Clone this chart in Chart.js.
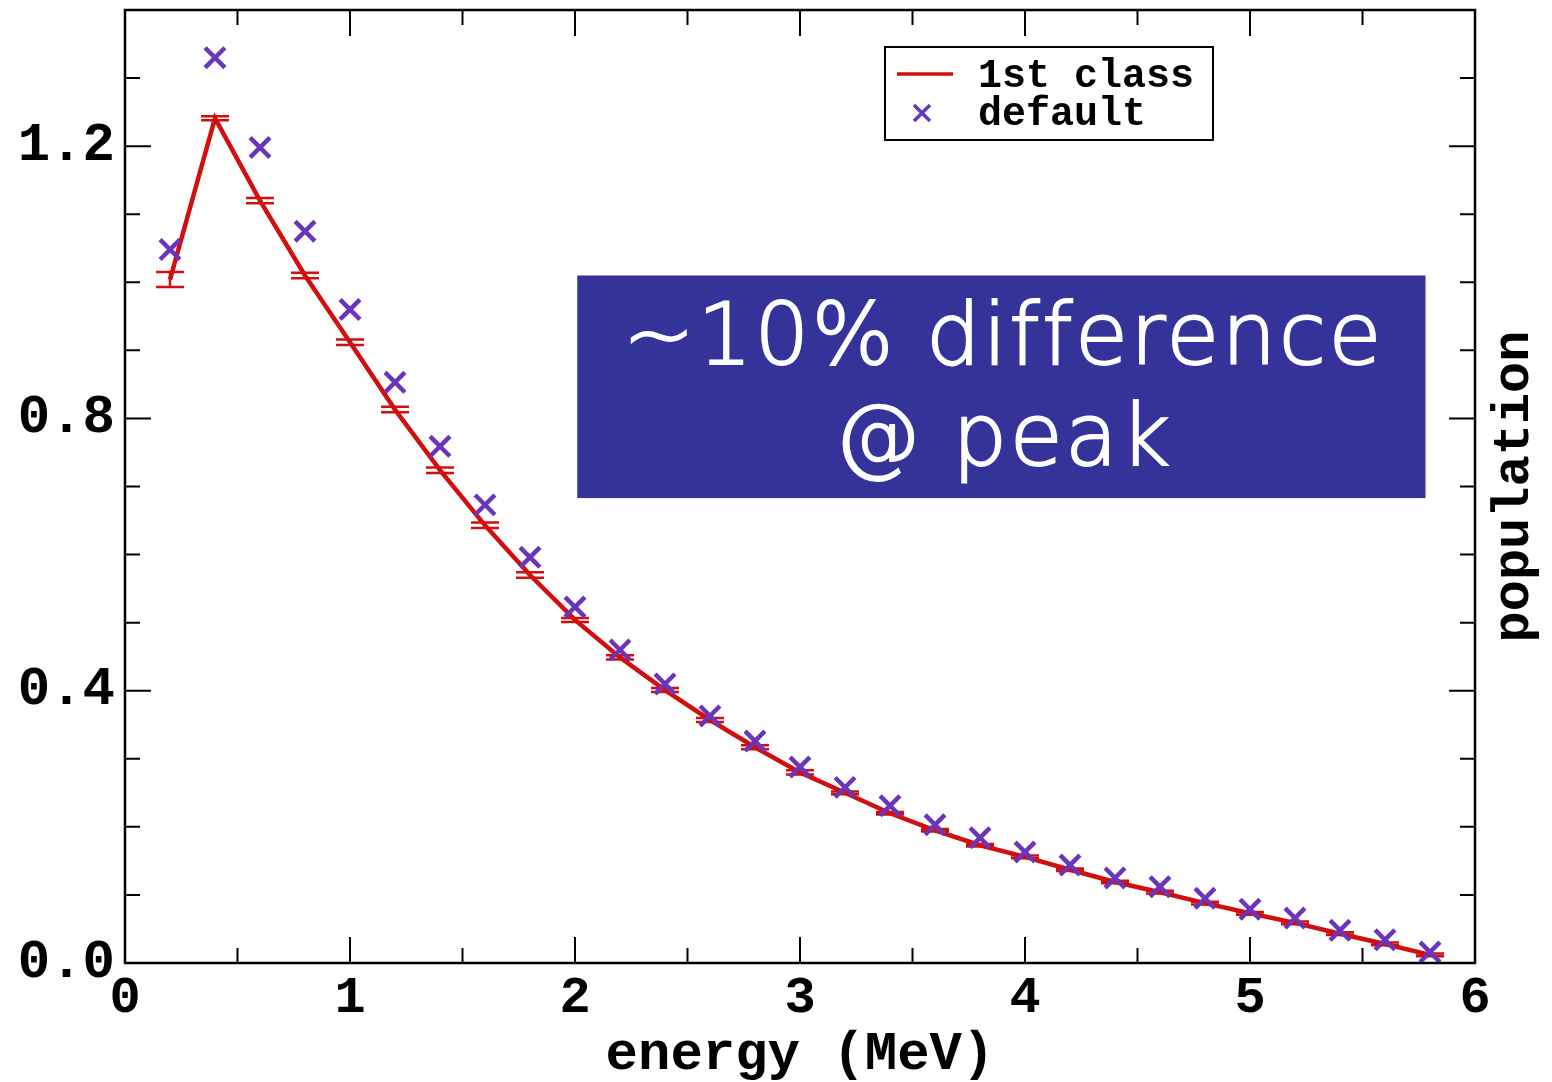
<!DOCTYPE html>
<html>
<head>
<meta charset="utf-8">
<script src="https://cdn.jsdelivr.net/npm/chart.js@4.4.0/dist/chart.umd.min.js"></script>
<style>
html, body { margin: 0; padding: 0; background: #fff; }
#wrap { width: 1552px; height: 1082px; }
</style>
</head>
<body>
<div id="wrap"><canvas id="spectrumChart"></canvas></div>
<script>
// energy bins (MeV)
const energy = [0.2, 0.4, 0.6, 0.8, 1.0, 1.2, 1.4, 1.6, 1.8, 2.0, 2.2, 2.4, 2.6, 2.8, 3.0,
                3.2, 3.4, 3.6, 3.8, 4.0, 4.2, 4.4, 4.6, 4.8, 5.0, 5.2, 5.4, 5.6, 5.8];
// 1st class run (line + error bars)
const firstClass = [1.004, 1.241, 1.120, 1.010, 0.912, 0.813, 0.724, 0.643, 0.570, 0.504,
                    0.449, 0.401, 0.357, 0.317, 0.280, 0.250, 0.220, 0.195, 0.173, 0.156,
                    0.137, 0.119, 0.104, 0.088, 0.073, 0.059, 0.043, 0.028, 0.012];
const firstClassErr = [0.011, 0.003, 0.004, 0.004, 0.004, 0.004, 0.004, 0.004, 0.004, 0.003,
                       0.003, 0.003, 0.003, 0.003, 0.003, 0.002, 0.002, 0.002, 0.002, 0.002,
                       0.002, 0.002, 0.002, 0.002, 0.002, 0.002, 0.002, 0.002, 0.002];
// default run (x markers)
const defaultRun = [1.048, 1.330, 1.198, 1.075, 0.960, 0.853, 0.759, 0.673, 0.596, 0.523,
                    0.460, 0.410, 0.363, 0.326, 0.288, 0.258, 0.231, 0.203, 0.184, 0.163,
                    0.144, 0.125, 0.112, 0.095, 0.079, 0.066, 0.048, 0.034, 0.016];
const seriesNames = ['1st class', 'default'];
const noteLines = ['~10% difference', '@ peak'];

const RED = '#d20e0e';
const PURPLE = '#6a35b8';
const MONO = "'Liberation Mono', 'Courier New', monospace";

const toPoints = ys => energy.map((e, i) => ({ x: e, y: ys[i] }));

// drop the label overhang padding so the plot box sits where we want it
const noPad = s => { s.paddingTop = 0; s.paddingBottom = 0; s.paddingLeft = 0; s.paddingRight = 0; };

// error bars under the line
const errorBars = {
    id: 'errorBars',
    beforeDatasetsDraw(chart) {
        const { ctx, scales: { x, y } } = chart;
        ctx.save();
        ctx.strokeStyle = RED;
        ctx.lineWidth = 2.5;
        energy.forEach((e, i) => {
            const px = x.getPixelForValue(e);
            const top = y.getPixelForValue(firstClass[i] + firstClassErr[i]);
            const bot = y.getPixelForValue(firstClass[i] - firstClassErr[i]);
            ctx.beginPath();
            ctx.moveTo(px, top); ctx.lineTo(px, bot);
            ctx.moveTo(px - 14, top); ctx.lineTo(px + 14, top);
            ctx.moveTo(px - 14, bot); ctx.lineTo(px + 14, bot);
            ctx.stroke();
        });
        ctx.restore();
    }
};

// frame, inward ticks, legend, right title, note box
const decorations = {
    id: 'decorations',
    afterDraw(chart) {
        const { ctx, chartArea: a, scales: { x, y } } = chart;
        ctx.save();
        ctx.strokeStyle = '#000';
        ctx.lineWidth = 2;
        ctx.beginPath();
        x.ticks.forEach(t => {
            const px = x.getPixelForValue(t.value);
            const len = Number.isInteger(t.value) ? 26 : 15;
            ctx.moveTo(px, a.bottom); ctx.lineTo(px, a.bottom - len);
            ctx.moveTo(px, a.top); ctx.lineTo(px, a.top + len);
        });
        y.ticks.forEach(t => {
            const py = y.getPixelForValue(t.value);
            const len = Math.round(t.value * 10) % 4 === 0 ? 26 : 15;
            ctx.moveTo(a.left, py); ctx.lineTo(a.left + len, py);
            ctx.moveTo(a.right, py); ctx.lineTo(a.right - len, py);
        });
        ctx.stroke();
        ctx.lineWidth = 2.5;
        ctx.strokeRect(a.left, a.top, a.width, a.height);

        // right-hand axis title
        ctx.save();
        ctx.translate(1515, (a.top + a.bottom) / 2);
        ctx.rotate(-Math.PI / 2);
        ctx.fillStyle = '#000';
        ctx.font = 'bold 52px ' + MONO;
        ctx.textAlign = 'center';
        ctx.textBaseline = 'middle';
        ctx.fillText('population', 0, 0);
        ctx.restore();

        // legend
        const ds = chart.data.datasets;
        ctx.lineWidth = 2;
        ctx.strokeStyle = '#000';
        ctx.strokeRect(885, 47, 328, 93);
        ctx.font = 'bold 40px ' + MONO;
        ctx.fillStyle = '#000';
        ctx.textBaseline = 'middle';
        ctx.textAlign = 'left';
        ctx.fillText(ds[1].label, 978, 77);
        ctx.fillText(ds[0].label, 978, 115);
        ctx.strokeStyle = ds[1].borderColor;
        ctx.lineWidth = 3.5;
        ctx.beginPath(); ctx.moveTo(897, 74); ctx.lineTo(953, 74); ctx.stroke();
        ctx.strokeStyle = ds[0].borderColor;
        ctx.lineWidth = 3.5;
        ctx.beginPath();
        ctx.moveTo(914, 105); ctx.lineTo(930, 121);
        ctx.moveTo(930, 105); ctx.lineTo(914, 121);
        ctx.stroke();

        // note box in data coordinates
        const bx0 = x.getPixelForValue(2.01), bx1 = x.getPixelForValue(5.78);
        const by0 = y.getPixelForValue(1.01), by1 = y.getPixelForValue(0.683);
        ctx.fillStyle = '#343399';
        ctx.fillRect(bx0, by0, bx1 - bx0, by1 - by0);
        ctx.fillStyle = '#fff';
        ctx.strokeStyle = '#fff';
        ctx.lineWidth = 2;
        ctx.textAlign = 'center';
        ctx.textBaseline = 'alphabetic';
        ctx.font = "200 86px 'DejaVu Sans', sans-serif";
        ctx.letterSpacing = '2.5px';
        const cx = (bx0 + bx1) / 2 + 2;
        [[noteLines[0], 89], [noteLines[1], 190]].forEach(([txt, dy]) => {
            ctx.fillText(txt, cx, by0 + dy);
            ctx.strokeText(txt, cx, by0 + dy);
        });
        ctx.restore();
    }
};

const ctx1 = document.getElementById('spectrumChart').getContext('2d');
const chart1 = new Chart(ctx1, {
    type: 'scatter',
    data: {
        datasets: [{
            label: seriesNames[1],
            data: toPoints(defaultRun),
            showLine: false,
            pointStyle: 'crossRot',
            pointRadius: 14,
            borderWidth: 4.5,
            borderColor: PURPLE,
            backgroundColor: PURPLE,
            order: 0
        }, {
            label: seriesNames[0],
            data: toPoints(firstClass),
            showLine: true,
            borderColor: RED,
            borderWidth: 4.5,
            pointRadius: 0,
            tension: 0,
            order: 1
        }]
    },
    options: {
        responsive: true,
        maintainAspectRatio: false,
        animation: false,
        devicePixelRatio: 1,
        layout: { autoPadding: false, padding: { top: 10, left: 0, right: 0, bottom: 0 } },
        plugins: {
            legend: { display: false },
            tooltip: { enabled: false }
        },
        scales: {
            x: {
                type: 'linear',
                min: 0,
                max: 6,
                grid: { display: false, drawTicks: false },
                border: { display: false },
                ticks: {
                    stepSize: 0.5,
                    autoSkip: false,
                    maxRotation: 0,
                    padding: 5,
                    color: '#000',
                    font: { family: MONO, size: 52, weight: 'bold' },
                    callback: v => Number.isInteger(v) ? String(v) : ''
                },
                title: {
                    display: true,
                    text: 'energy (MeV)',
                    color: '#000',
                    padding: 0,
                    font: { family: MONO, size: 54, weight: 'bold', lineHeight: 1.0 }
                },
                afterFit: s => { noPad(s); s.height = 119; }
            },
            y: {
                position: 'left',
                min: 0,
                max: 1.4,
                grid: { display: false, drawTicks: false },
                border: { display: false },
                ticks: {
                    stepSize: 0.1,
                    autoSkip: false,
                    padding: 10,
                    color: '#000',
                    font: { family: MONO, size: 54, weight: 'bold' },
                    callback: v => Math.round(v * 10) % 4 === 0 ? v.toFixed(1) : ''
                },
                afterFit: s => { noPad(s); s.width = 125; }
            },
            yRight: {
                position: 'right',
                min: 0,
                max: 1.4,
                grid: { display: false, drawTicks: false },
                border: { display: false },
                ticks: { display: false },
                afterFit: s => { noPad(s); s.width = 77; }
            }
        }
    },
    plugins: [errorBars, decorations]
});
</script>
</body>
</html>
